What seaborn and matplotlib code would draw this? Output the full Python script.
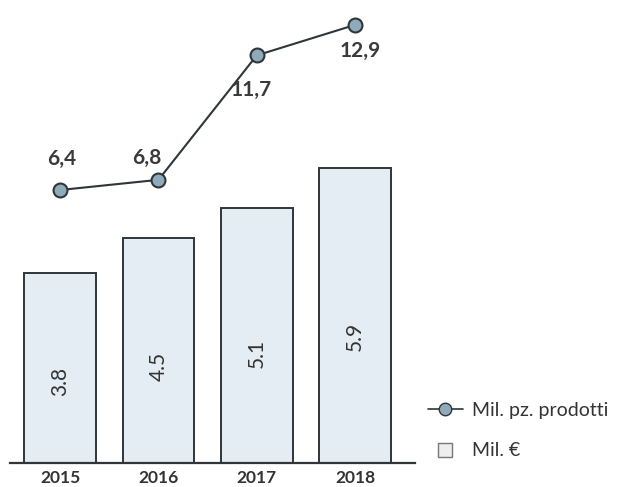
import pandas as pd
import matplotlib.pyplot as plt
import seaborn as sns
from matplotlib.lines import Line2D

# Data
years = ['2015', '2016', '2017', '2018']
mil_euro = [3.8, 4.5, 5.1, 5.9]
mil_pezzi = [6.4, 6.8, 11.7, 12.9]
euro_labels = ['3.8', '4.5', '5.1', '5.9']
pezzi_labels = ['6,4', '6,8', '11,7', '12,9']

df = pd.DataFrame({'anno': years, 'euro': mil_euro, 'pezzi': mil_pezzi})

sns.set_style('white')
plt.rcParams['font.family'] = ['Lato', 'DejaVu Sans']

bar_fill = '#e4edf3'
edge = '#2f3538'
marker_fill = '#8eaabb'

fig = plt.figure(figsize=(6.29, 4.87), dpi=100)
ax = fig.add_axes([10 / 629, 24 / 487, 405 / 629, 453 / 487])

sns.barplot(data=df, x='anno', y='euro', ax=ax, color=bar_fill,
            edgecolor=edge, linewidth=1.4, width=0.73, saturation=1)
ax.set_ylim(0, 453 / 50.0)
ax.set_xlim(-0.51, 3.61)

# values written vertically inside the bars
for i, v in enumerate(mil_euro):
    ax.text(i, v * 0.43, euro_labels[i], rotation=90, ha='center', va='center',
            fontsize=15, color='#333333')

# production line on a second scale
ax2 = ax.twinx()
sns.lineplot(x=list(range(len(years))), y=mil_pezzi, ax=ax2, color=edge,
             linewidth=1.5, marker='o', markersize=10,
             markerfacecolor=marker_fill, markeredgecolor=edge, markeredgewidth=1.5)
ax2.set_ylim(6.4 - 273 / 25.4, 6.4 + 180 / 25.4)
ax2.set_xlim(-0.51, 3.61)

offsets = [(0.02, 22), (-0.12, 16), (-0.06, -25), (0.05, -19)]
for i, v in enumerate(mil_pezzi):
    dx, dy = offsets[i]
    ax2.annotate(pezzi_labels[i], (i + dx, v), xytext=(0, dy), textcoords='offset points',
                 ha='center', va='center', fontsize=15, fontweight='bold', color='#3a3a3a')

for a in (ax, ax2):
    for s in ['top', 'right', 'left']:
        a.spines[s].set_visible(False)
    a.set_yticks([])
    a.set_ylabel('')
ax2.spines['bottom'].set_visible(False)
ax.spines['bottom'].set_color(edge)
ax.spines['bottom'].set_linewidth(1.6)
ax.set_xlabel('')
ax.tick_params(axis='x', length=0, pad=5)
for lbl in ax.get_xticklabels():
    lbl.set_fontsize(12.5)
    lbl.set_fontweight('bold')
    lbl.set_color('#333333')

handles = [
    Line2D([0], [0], color=edge, linewidth=1.2, marker='o', markersize=9,
           markerfacecolor=marker_fill, markeredgecolor=edge),
    Line2D([0], [0], linestyle='none', marker='s', markersize=10,
           markerfacecolor='#eeeeee', markeredgecolor='#777777', markeredgewidth=1),
]
fig.legend(handles, ['Mil. pz. prodotti', 'Mil. €'], loc='lower left',
           bbox_to_anchor=(410 / 629, 10 / 487), frameon=False, fontsize=14,
           handlelength=1.8, handletextpad=0.5, labelspacing=1.2, labelcolor='#333333')

fig.savefig('out.png', dpi=100)
